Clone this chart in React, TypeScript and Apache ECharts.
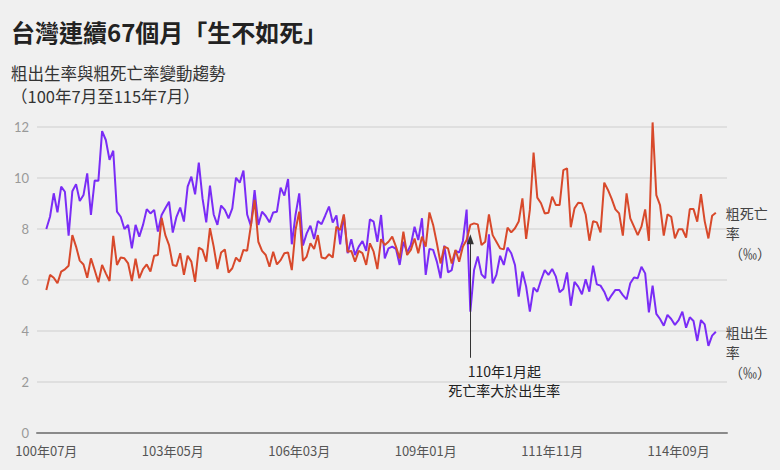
import React, { useEffect, useRef } from "react";
import * as echarts from "echarts";

const TITLE = "台灣連續67個月「生不如死」";
const SUBTITLE = "粗出生率與粗死亡率變動趨勢";
const PERIOD = "（100年7月至115年7月）";

const START_YEAR = 100;
const START_MONTH = 7;
const MONTH_COUNT = 181;
const months: string[] = [];
for (let i = 0; i < MONTH_COUNT; i++) {
  const t = START_MONTH - 1 + i;
  const y = START_YEAR + Math.floor(t / 12);
  const m = (t % 12) + 1;
  months.push(`${y}年${String(m).padStart(2, "0")}月`);
}

const tickMonths = ["100年07月", "103年05月", "106年03月", "109年01月", "111年11月", "114年09月"];
const yMin = 0;
const yMax = 12;
const yStep = 2;

const deathName = "粗死亡率";
const birthName = "粗出生率";
const deathLabel = ["粗死亡", "率", " （‰）"];
const birthLabel = ["粗出生", "率", " （‰）"];

// 粗死亡率 (‰), 100年07月 .. 115年07月
const deathRate = [
  5.61, 6.2, 6.09, 5.87, 6.33, 6.42, 6.56, 7.76, 7.31, 6.76, 6.61, 6.09, 6.85, 6.39, 5.91, 6.59, 6.26, 5.96, 7.73, 6.59,
  6.88, 6.85, 6.65, 5.96, 6.84, 6.07, 6.43, 6.61, 6.33, 6.95, 6.98, 8.44, 7.76, 7.37, 6.59, 6.55, 7.05, 6.2, 6.95, 6.72,
  5.93, 7.27, 7.18, 6.72, 8.03, 7.31, 6.43, 7.08, 7.2, 6.29, 6.46, 6.88, 6.72, 7.18, 7.15, 8.13, 9.14, 7.5, 7.14, 6.98,
  6.52, 7.11, 6.61, 6.78, 7.05, 7.08, 6.39, 7.96, 8.68, 6.75, 6.92, 7.44, 7.22, 7.76, 6.88, 6.84, 7.01, 6.88, 8.09, 7.96,
  8.57, 7.11, 7.14, 6.72, 7.14, 7.05, 6.59, 7.44, 7.11, 6.43, 7.6, 7.37, 7.5, 7.7, 7.31, 6.85, 7.9, 6.98, 7.18, 7.63,
  7.05, 7.7, 7.31, 8.65, 8.16, 7.44, 6.65, 7.31, 7.24, 6.65, 7.18, 6.72, 7.31, 7.57, 8.16, 8.22, 8.18, 7.37, 7.5, 8.57,
  7.76, 7.5, 7.24, 7.2, 8.05, 7.87, 8.03, 8.29, 9.2, 7.61, 8.75, 11.0, 9.23, 9.01, 8.61, 8.64, 9.27, 8.94, 8.94, 10.31,
  10.38, 8.07, 8.81, 9.03, 9.01, 8.57, 7.54, 8.31, 8.26, 7.87, 9.82, 9.53, 9.18, 8.77, 8.61, 7.74, 9.4, 8.42, 8.09, 7.76,
  8.09, 8.77, 7.53, 12.18, 9.33, 8.94, 7.74, 8.57, 8.48, 7.63, 7.99, 7.99, 7.66, 8.78, 8.78, 8.29, 9.37, 8.31, 7.63, 8.52,
  8.64,
];

// 粗出生率 (‰), 100年07月 .. 115年07月
const birthRate = [
  8.0, 8.48, 9.4, 8.65, 9.66, 9.46, 7.74, 9.48, 9.76, 9.1, 9.33, 10.18, 8.55, 9.9, 9.89, 11.84, 11.49, 10.71, 11.07, 8.68,
  8.48, 8.0, 8.16, 7.24, 8.16, 7.7, 8.16, 8.78, 8.61, 8.75, 7.9, 8.55, 8.81, 9.07, 7.86, 8.48, 8.84, 8.29, 9.66, 10.05,
  9.36, 10.6, 9.2, 8.26, 9.7, 8.57, 8.16, 8.92, 8.75, 8.42, 8.81, 10.01, 9.82, 10.29, 8.57, 8.12, 9.53, 8.16, 8.68, 8.51,
  8.26, 8.65, 8.68, 9.62, 9.31, 9.96, 7.4, 8.55, 9.4, 7.35, 7.83, 8.13, 7.61, 8.31, 8.19, 8.53, 8.88, 8.25, 8.53, 7.4,
  8.55, 7.05, 7.6, 6.98, 7.31, 7.53, 7.14, 8.38, 8.29, 7.5, 8.55, 6.85, 7.24, 7.31, 7.22, 6.59, 7.5, 7.08, 7.37, 8.09,
  7.57, 8.42, 6.2, 7.22, 7.18, 6.72, 6.07, 7.35, 6.3, 6.39, 7.14, 7.08, 7.53, 8.76, 4.76, 6.39, 6.92, 6.22, 6.07, 7.79,
  5.87, 6.2, 6.95, 6.59, 7.27, 7.05, 6.59, 5.35, 6.33, 5.74, 4.76, 5.7, 5.54, 6.0, 6.39, 6.2, 6.43, 6.13, 5.52, 5.65,
  6.3, 4.99, 5.93, 5.74, 5.44, 6.03, 5.54, 6.56, 5.83, 5.78, 5.54, 5.18, 5.41, 5.61, 5.61, 5.41, 5.24, 5.87, 6.1, 6.07,
  6.52, 6.26, 4.73, 5.78, 4.67, 4.47, 4.21, 4.63, 4.47, 4.24, 4.43, 4.76, 4.13, 4.54, 4.39, 3.61, 4.43, 4.26, 3.42, 3.82,
  3.97,
];

const annotationMonth = "110年01月";
const annotationText = ["110年1月起", "死亡率大於出生率"];
const arrowFrom = 2.95;
const arrowTo = 7.6;

const FONT = "'Noto Sans CJK TC', 'Noto Sans', sans-serif";
const NUM_FONT = "Lato, 'Noto Sans', sans-serif";
const RED = "#d8492b";
const PURPLE = "#7a2cf6";

export default function App() {
  const ref = useRef<HTMLDivElement>(null);

  useEffect(() => {
    if (!ref.current) return;
    const chart = echarts.init(ref.current, undefined, { renderer: "svg" });
    const annIdx = months.indexOf(annotationMonth);

    const endLabel = (lines: string[]) => ({
      show: true,
      formatter: ["", ""].concat(lines).join("\n"),
      color: "#444",
      fontSize: 14,
      lineHeight: 20,
      fontFamily: FONT,
      distance: 10,
      align: "left",
      verticalAlign: "middle",
    });

    chart.setOption({
      animation: false,
      backgroundColor: "#f0f0f0",
      textStyle: { fontFamily: FONT },
      title: [
        {
          text: TITLE,
          left: 11,
          top: 19,
          padding: 0,
          textStyle: { fontSize: 24, fontWeight: "bold", color: "#222", fontFamily: FONT },
        },
        {
          text: SUBTITLE + "\n" + PERIOD,
          left: 11,
          top: 61,
          padding: 0,
          textStyle: { fontSize: 16.5, fontWeight: "normal", color: "#333", lineHeight: 23, fontFamily: FONT },
        },
      ],
      grid: { left: 37, right: 53, top: 127, bottom: 37, containLabel: false },
      xAxis: {
        type: "value",
        min: -2.5,
        max: MONTH_COUNT + 2,
        splitLine: { show: false },
        axisTick: { show: false },
        axisLine: { show: true, onZero: true, lineStyle: { color: "#8a8a8a", width: 2 } },
        axisLabel: {
          customValues: tickMonths.map((m) => months.indexOf(m)),
          formatter: (v: number) => months[Math.round(v)] ?? "",
          color: "#555",
          fontSize: 13,
          lineHeight: 13,
          margin: 11,
          fontFamily: FONT,
        },
      },
      yAxis: {
        type: "value",
        min: yMin,
        max: yMax,
        interval: yStep,
        axisLine: { show: false },
        axisTick: { show: false },
        splitLine: { lineStyle: { color: "#dadada", width: 1.5 } },
        axisLabel: { color: "#999", fontSize: 13, lineHeight: 13, margin: 8, fontFamily: NUM_FONT },
      },
      series: [
        {
          name: deathName,
          type: "line",
          data: deathRate.map((v, i) => [i, v]),
          showSymbol: false,
          symbol: "none",
          clip: false,
          lineStyle: { color: RED, width: 2 },
          itemStyle: { color: RED },
          endLabel: endLabel(deathLabel),
          markLine: {
            silent: true,
            symbol: ["none", "triangle"],
            symbolSize: [7, 10],
            label: { show: false },
            lineStyle: { color: "#333", width: 1, type: "solid" },
            data: [[{ coord: [annIdx, arrowFrom] }, { coord: [annIdx, arrowTo] }]],
          },
          z: 3,
        },
        {
          name: birthName,
          type: "line",
          data: birthRate.map((v, i) => [i, v]),
          showSymbol: false,
          symbol: "none",
          clip: false,
          lineStyle: { color: PURPLE, width: 2 },
          itemStyle: { color: PURPLE },
          endLabel: endLabel(birthLabel),
          z: 2,
        },
      ],
    });

    const p = chart.convertToPixel({ gridIndex: 0 }, [annIdx, arrowFrom]) as number[];
    chart.setOption({
      graphic: [
        {
          type: "text",
          x: p[0] + 34,
          y: p[1] + 4,
          style: {
            text: annotationText.join("\n"),
            align: "center",
            verticalAlign: "top",
            fontSize: 14,
            lineHeight: 19,
            fill: "#222",
            fontFamily: FONT,
          },
        },
      ],
    });

    return () => chart.dispose();
  }, []);

  return (
    <div
      ref={ref}
      style={{ position: "absolute", left: 0, top: 0, width: 780, height: 470, background: "#f0f0f0" }}
    />
  );
}
